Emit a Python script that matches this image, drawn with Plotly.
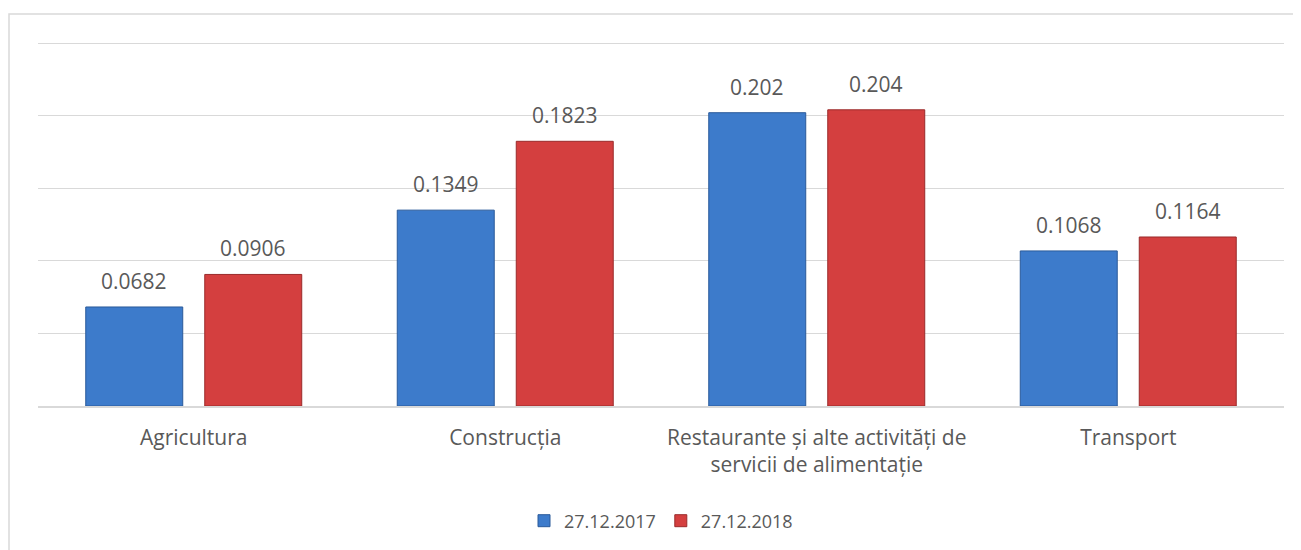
import plotly.graph_objects as go

categories = ["Agricultura", "Construcția",
              "Restaurante și alte activități de<br>servicii de alimentație", "Transport"]
series_names = ["27.12.2017", "27.12.2018"]
values_2017 = [0.0682, 0.1349, 0.202, 0.1068]
values_2018 = [0.0906, 0.1823, 0.204, 0.1164]
label_2017 = ["0.0682", "0.1349", "0.202", "0.1068"]
label_2018 = ["0.0906", "0.1823", "0.204", "0.1164"]

# page has an 8px body margin: figure coordinates = page coordinates - 8
W, H = 1293, 542
ML, MR, MT, MB = 30, 17, 34, 143
BARGAP = 0.236
BARGROUPGAP = 0.185
FONT = "Open Sans"
TXT = "#595959"
GRID = "#D9D9D9"

fig = go.Figure()
fig.add_trace(go.Bar(name=series_names[0], x=categories, y=values_2017,
                     marker=dict(color="#3D7BCB", line=dict(color="#2A5A9A", width=1))))
fig.add_trace(go.Bar(name=series_names[1], x=categories, y=values_2018,
                     marker=dict(color="#D43F3F", line=dict(color="#9A2B2B", width=1))))

plot_w = W - ML - MR
plot_h = H - MT - MB
slot = (1 - BARGAP) * plot_w / len(categories) / 2
for vals, labs, sign in [(values_2017, label_2017, -1), (values_2018, label_2018, 1)]:
    for c, v, t in zip(categories, vals, labs):
        fig.add_annotation(x=c, y=v, text=t, showarrow=False, xref="x", yref="y",
                           yanchor="bottom", xshift=sign * slot / 2, yshift=10,
                           font=dict(family=FONT, size=21, color=TXT))

fig.add_shape(type="rect", xref="paper", yref="paper",
              x0=(1 - ML) / plot_w, x1=1.05, y0=-0.6, y1=1 + (MT - 6) / plot_h,
              line=dict(color=GRID, width=1.5), fillcolor="rgba(0,0,0,0)", layer="below")

fig.update_layout(
    width=W, height=H, margin=dict(l=ML, r=MR, t=MT, b=MB),
    paper_bgcolor="white", plot_bgcolor="white",
    barmode="group", bargap=BARGAP, bargroupgap=BARGROUPGAP,
    font=dict(family=FONT, color=TXT),
    showlegend=True,
    legend=dict(orientation="h", x=0.5, xanchor="center",
                y=-(513 - (H - MB)) / plot_h, yanchor="middle",
                font=dict(family=FONT, size=18, color=TXT),
                traceorder="normal", itemwidth=30),
)
fig.update_xaxes(showgrid=False, showline=True, linecolor=GRID, linewidth=1.5,
                 ticks="outside", ticklen=12, tickcolor="rgba(0,0,0,0)",
                 tickfont=dict(family=FONT, size=21, color=TXT))
fig.update_yaxes(range=[0, 0.2507], dtick=0.05, showgrid=True, gridcolor=GRID, gridwidth=1,
                 showticklabels=False, zeroline=False, showline=False)

fig.write_html("out.html")
